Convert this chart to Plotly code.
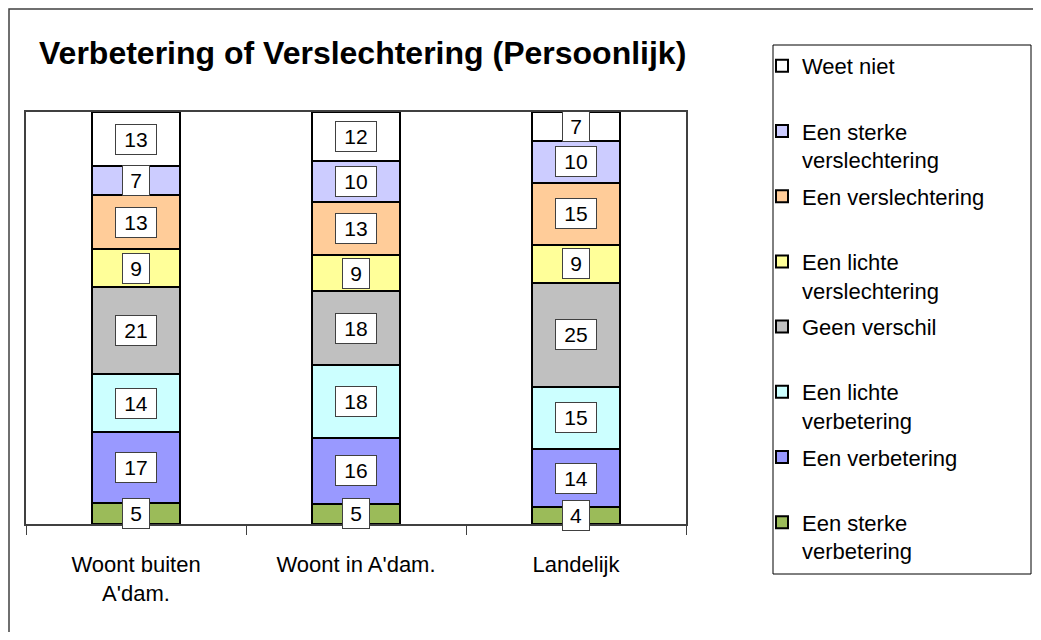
import plotly.graph_objects as go

categories = ["Woont buiten<br>A'dam.", "Woont in A'dam.", "Landelijk"]
series_names = [
    "Een sterke<br>verbetering",
    "Een verbetering",
    "Een lichte<br>verbetering",
    "Geen verschil",
    "Een lichte<br>verslechtering",
    "Een verslechtering",
    "Een sterke<br>verslechtering",
    "Weet niet",
]
series_values = [
    [5, 5, 4],
    [17, 16, 14],
    [14, 18, 15],
    [21, 18, 25],
    [9, 9, 9],
    [13, 13, 15],
    [7, 10, 10],
    [13, 12, 7],
]
colors = ["#9BBB59", "#9999FF", "#CCFFFF", "#C0C0C0", "#FFFF99", "#FFCC99", "#CCCCFF", "#FFFFFF"]
title_text = "Verbetering of Verslechtering (Persoonlijk)"

OFF = 8  # page body margin offset
W, H = 1041 - 2 * OFF, 640 - 2 * OFF
L, R, T, B = 26 - OFF, 686 - OFF, 112 - OFF, 524 - OFF
pw, ph = R - L, B - T
FONT = "Liberation Sans, Arial"


def px(x):
    # reference screen x -> paper
    return (x - OFF - L) / pw


def py(y):
    # reference screen y -> paper
    return (B - (y - OFF)) / ph


fig = go.Figure()
n = len(series_names)
for i, (name, vals, col) in enumerate(zip(series_names, series_values, colors)):
    label = name if "<br>" in name else name + "<br> "
    fig.add_trace(go.Bar(
        x=categories, y=vals, name=label,
        marker=dict(color=col, line=dict(color="#000000", width=2)),
        legendgroup=f"g{i}", legendrank=100 + (n - i),
    ))

# data labels
totals = [sum(series_values[s][c] for s in range(n)) for c in range(len(categories))]
annotations = []
for c, cat in enumerate(categories):
    cum = 0.0
    for s in range(n):
        v = series_values[s][c]
        pct = v / totals[c] * 100
        mid = cum + pct / 2
        cum += pct
        txt = str(v)
        annotations.append(dict(
            x=cat, y=mid, xref="x", yref="y", text=txt, showarrow=False,
            font=dict(family=FONT, size=21, color="#000000"),
            bgcolor="#FFFFFF", bordercolor="#404040", borderwidth=1, borderpad=4,
            width=14 * len(txt) + 4, height=21, align="center", valign="middle",
        ))

annotations.append(dict(
    x=px(37), y=py(53), xref="paper", yref="paper", text=f"<b>{title_text}</b>",
    showarrow=False, xanchor="left", yanchor="middle",
    font=dict(family=FONT, size=32, color="#000000"),
))

shapes = [
    # outer chart frame (as far left/top as the page allows)
    dict(type="rect", xref="paper", yref="paper", x0=px(OFF + 1), x1=px(1090), y0=py(OFF + 1), y1=py(700),
         line=dict(color="#404040", width=1.5), fillcolor="rgba(0,0,0,0)", layer="below"),
    # legend box
    dict(type="rect", xref="paper", yref="paper", x0=px(773), x1=px(1031), y0=py(45), y1=py(574),
         line=dict(color="#000000", width=1), fillcolor="rgba(0,0,0,0)"),
]

fig.update_layout(
    width=W, height=H,
    margin=dict(l=L, r=W - R, t=T, b=H - B, autoexpand=False),
    barmode="stack", barnorm="percent", bargap=0.6,
    paper_bgcolor="#FFFFFF", plot_bgcolor="#FFFFFF",
    font=dict(family=FONT, color="#000000"),
    showlegend=True,
    legend=dict(
        x=px(762), y=py(45), xanchor="left", yanchor="top",
        traceorder="grouped", tracegroupgap=5, valign="top",
        font=dict(family=FONT, size=22, color="#000000"),
        bgcolor="rgba(0,0,0,0)", borderwidth=0, itemwidth=30, maxheight=900,
    ),
    xaxis=dict(
        showline=True, linecolor="#404040", linewidth=1.5, mirror=True,
        ticks="outside", tickson="boundaries", ticklen=9, tickcolor="#404040",
        tickfont=dict(family=FONT, size=22, color="#000000"),
        ticklabelstandoff=20, showgrid=False,
    ),
    yaxis=dict(
        range=[0, 100], showline=True, linecolor="#404040", linewidth=1.5, mirror=True,
        showticklabels=False, ticks="", showgrid=False, zeroline=False,
    ),
    annotations=annotations,
    shapes=shapes,
)

fig.write_html("out.html")
